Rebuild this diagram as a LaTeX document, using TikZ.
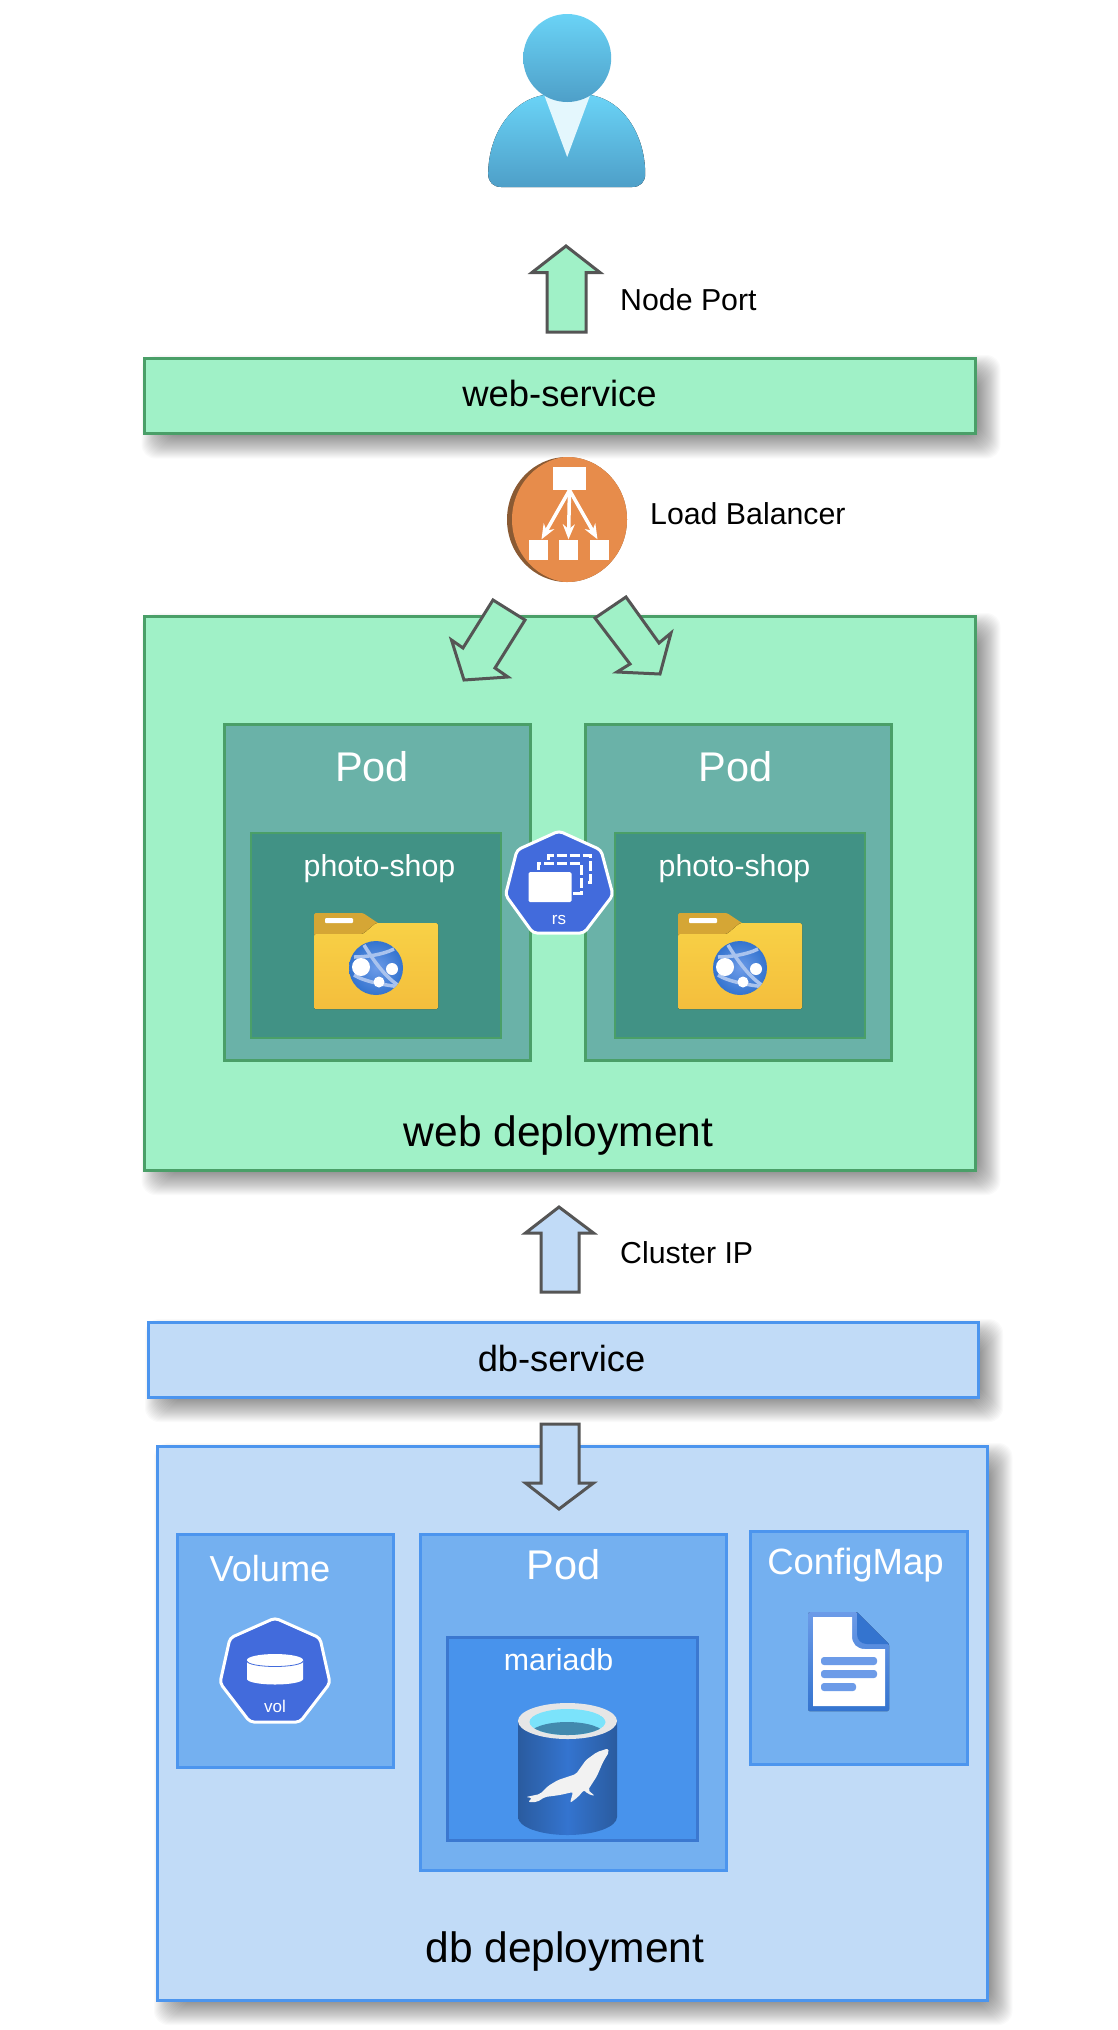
\documentclass[tikz,border=0pt]{standalone}
\usepackage{fontspec}
\setmainfont{Liberation Sans}
\usetikzlibrary{arrows.meta}
\definecolor{gfill}{HTML}{A0F1C7}
\definecolor{gline}{HTML}{4A9F68}
\definecolor{gpod}{HTML}{6AB2A8}
\definecolor{gin}{HTML}{419285}
\definecolor{bfill}{HTML}{C1DBF7}
\definecolor{bline}{HTML}{4C95EE}
\definecolor{bpod}{HTML}{74B0F0}
\definecolor{bin}{HTML}{4893EC}
\definecolor{binl}{HTML}{3B78D0}
\definecolor{arrowline}{HTML}{555555}
\definecolor{k8s}{HTML}{426BDC}
\definecolor{lborange}{HTML}{E78C4B}
\definecolor{lbdark}{HTML}{8A5A33}
\definecolor{ptop}{HTML}{6AD3F6}
\definecolor{pbot}{HTML}{4E9FC8}
\definecolor{foldl}{HTML}{F8D146}
\definecolor{foldd}{HTML}{F4BE3C}
\definecolor{foldt}{HTML}{D5A635}
\definecolor{docl}{HTML}{6C9BE8}
\definecolor{docd}{HTML}{3474CF}
\definecolor{globeline}{HTML}{A9C3EE}
\definecolor{cyledge}{HTML}{2A5B9F}
\definecolor{cylmid}{HTML}{3474CF}
\definecolor{cylrim}{HTML}{E6E6E6}
\definecolor{cylcyan}{HTML}{7BE3FB}
\definecolor{cylwater}{HTML}{4289AE}
\definecolor{sealc}{HTML}{F2F2F2}
\tikzset{
  boxg/.style={draw=gline,fill=gfill,line width=3pt,inner sep=0pt},
  podg/.style={draw=gline,fill=gpod,line width=3pt,inner sep=0pt},
  ing/.style={draw=gline,fill=gin,line width=2pt,inner sep=0pt},
  boxb/.style={draw=bline,fill=bfill,line width=3pt,inner sep=0pt},
  podb/.style={draw=bline,fill=bpod,line width=3pt,inner sep=0pt},
  inb/.style={draw=binl,fill=bin,line width=3pt,inner sep=0pt},
  blockg/.style={draw=arrowline,fill=gfill,line width=3pt,line join=miter},
  blockb/.style={draw=arrowline,fill=bfill,line width=3pt,line join=miter},
  hepta/.style={draw=white,fill=k8s,line width=3pt,rounded corners=4pt},
  lbsq/.style={fill=white,inner sep=0pt},
  lbarrow/.style={draw=white,line width=3.5pt,-{Stealth[length=15pt,width=12pt]}},
  lab/.style={inner sep=0pt,anchor=base,font=\fontsize{30.3}{36}\selectfont},
  labw/.style={lab,text=white},
}
\newcommand\softshadow[4]{%
  \foreach \i in {-14,...,14}{
    \fill[black,opacity=.02,rounded corners=14pt]
      ({#1+11-\i},{#2+11-\i}) rectangle ({#3+11+\i},{#4+11+\i});
  }}
\newcommand\folder[1]{%
  \begin{scope}[shift={(#1,0)}]
    \fill[foldt,rounded corners=1.5pt] (314,940) -- (314,913) -- (363,913) -- (381,925) -- (381,940) -- cycle;
    \fill[top color=foldl,bottom color=foldd,rounded corners=1.5pt]
      (314,1009) -- (314,934) -- (363,934) -- (376,923) -- (438,923) -- (438,1009) -- cycle;
    \fill[white,rounded corners=1pt] (325,918) rectangle (353,923);
    \begin{scope}
      \clip (376,968) circle (27);
      \shade[inner color=docl,outer color=docd] (376,968) circle (27);
      \draw[globeline,line width=3.5pt] (364,945) .. controls (372,958) and (385,978) .. (401,987);
      \draw[globeline,line width=3.5pt] (354,957) .. controls (365,957) and (382,955) .. (394,949);
      \draw[globeline,line width=3.5pt] (354,975) .. controls (365,982) and (385,985) .. (401,987);
    \end{scope}
    \fill[white] (361,967) circle (9);
    \fill[white] (392,969) circle (6);
    \fill[white] (379,982) circle (5.5);
  \end{scope}}
\begin{document}
\begin{tikzpicture}[x=1pt,y=-1pt]
\useasboundingbox (0,0) rectangle (1118,2030);
\fill[white] (0,0) rectangle (1118,2030);

% shadows
\softshadow{144.5}{358}{975.5}{433.5}
\softshadow{144.5}{616}{975.5}{1170}
\softshadow{148}{1322}{978}{1397}
\softshadow{157}{1446}{987.5}{2000}

% person
\begin{scope}[shift={(1.2,0)}]
\fill[top color=ptop,bottom color=pbot]
  (487,174) .. controls (487,135) and (510,100) .. (543,95) -- (589,95)
  .. controls (622,100) and (644,135) .. (644,174)
  .. controls (644,182) and (639,187) .. (631,187) -- (500,187)
  .. controls (492,187) and (487,182) .. (487,174) -- cycle;
\fill[white!82!ptop] (543,95) -- (589,95) -- (566,157) -- cycle;
\shade[top color=ptop,bottom color=pbot] (566,58) circle (44);
\end{scope}

% node port
\draw[blockg] (566,246) -- (600,272.5) -- (586,272.5) -- (586,332) -- (547,332) -- (547,272.5) -- (532,272.5) -- cycle;
\node[lab,anchor=base west] (nodeport) at (620,310) {Node Port};

% web service
\node[boxg,minimum width=831pt,minimum height=75.5pt] (websvc) at (560,395.75) {};
\node[lab,font=\fontsize{36.4}{42}\selectfont] (websvct) at (559.5,406) {web-service};

% web deployment
\node[boxg,minimum width=831pt,minimum height=554pt] (webdep) at (560,893) {};
\node[lab,font=\fontsize{42.5}{48}\selectfont] (webdept) at (558.5,1146) {web deployment};

% load balancer
\fill[lbdark] (567,519.5) ellipse[x radius=60,y radius=62.5];
\begin{scope}
  \clip (567,519.5) ellipse[x radius=60,y radius=62.5];
  \fill[lborange] (572,519.5) ellipse[x radius=60,y radius=63];
\end{scope}
\node[lbsq,minimum width=33.5pt,minimum height=23pt] (lbtop) at (569.5,478.5) {};
\node[lbsq,minimum width=18.5pt,minimum height=20.5pt] (lba) at (538.5,549.75) {};
\node[lbsq,minimum width=18.5pt,minimum height=20.5pt] (lbb) at (568.5,549.75) {};
\node[lbsq,minimum width=18.5pt,minimum height=20.5pt] (lbc) at (599.5,549.75) {};
\draw[lbarrow] (lbtop.south) -- ([xshift=3pt]lba.north);
\draw[lbarrow] (lbtop.south) -- (lbb.north);
\draw[lbarrow] (lbtop.south) -- ([xshift=-2pt]lbc.north);
\node[lab,anchor=base west] (lbt) at (650,524) {Load Balancer};

% block arrows into deployment
\draw[blockg] (493,600) -- (463,648) -- (451.5,640) -- (464,680) -- (508,677) -- (495,668) -- (525,620) -- cycle;
\draw[blockg] (626,597) -- (659,643) -- (671,633) -- (660,674) -- (617,672) -- (630,664) -- (595,618) -- cycle;

% pods
\node[podg,minimum width=306pt,minimum height=336pt] (pod1) at (377,892) {};
\node[podg,minimum width=306pt,minimum height=336pt] (pod2) at (738.5,892) {};
\node[labw,font=\fontsize{41.5}{46}\selectfont] (pod1t) at (372,781) {Pod};
\node[labw,font=\fontsize{41.5}{46}\selectfont] (pod2t) at (735.5,781) {Pod};
\node[ing,minimum width=250pt,minimum height=205pt] (in1) at (375.5,935.5) {};
\node[ing,minimum width=250pt,minimum height=205pt] (in2) at (739.5,935.5) {};
\node[labw] (shop1) at (379.5,876) {photo-shop};
\node[labw] (shop2) at (734.5,876) {photo-shop};
\folder{0}
\folder{364}

% rs
\begin{scope}[shift={(1,0)}]
\draw[hepta] (558,831) -- (600,850) -- (612,895) -- (583,933) -- (532,933) -- (504.5,895) -- (516,850) -- cycle;
\draw[white,line width=3pt,dash pattern=on 10pt off 3pt] (547,860) -- (547,855.5) -- (589,855.5) -- (589,882) -- (584,882);
\draw[white,line width=3pt,dash pattern=on 10pt off 3pt] (537,870) -- (537,863) -- (580,863) -- (580,893) -- (571,893);
\fill[white,rounded corners=1.5pt] (527.5,872) rectangle (570.5,902);
\node[labw,font=\fontsize{17}{20}\selectfont] (rst) at (558,924) {rs};
\end{scope}

% cluster ip
\draw[blockb] (559,1207) -- (593.5,1233) -- (579,1233) -- (579,1292) -- (541,1292) -- (541,1233) -- (525.5,1233) -- cycle;
\node[lab,anchor=base west] (clip) at (620,1263) {Cluster IP};

% db service
\node[boxb,minimum width=830pt,minimum height=75pt] (dbsvc) at (563,1359.5) {};
\node[lab,font=\fontsize{36.3}{42}\selectfont] (dbsvct) at (561.5,1371) {db-service};

% db deployment
\node[boxb,minimum width=830.5pt,minimum height=554pt] (dbdep) at (572.25,1723) {};
\node[lab,font=\fontsize{42.5}{48}\selectfont] (dbdept) at (565,1962) {db deployment};

% down arrow
\draw[blockb] (541,1424) -- (579,1424) -- (579,1483) -- (593.5,1483) -- (559,1509) -- (525.5,1483) -- (541,1483) -- cycle;

% volume
\node[podb,minimum width=216pt,minimum height=233pt] (volbox) at (285,1650.5) {};
\node[labw,font=\fontsize{36.2}{42}\selectfont] (volt) at (270,1581) {Volume};
\draw[hepta] (275,1618) -- (320,1638) -- (330,1683) -- (300,1722) -- (250,1722) -- (220,1683) -- (230,1638) -- cycle;
\fill[white] (247,1660) -- (247,1679) arc[start angle=180,end angle=0,x radius=28,y radius=5.5] -- (303,1660) arc[start angle=0,end angle=-180,x radius=28,y radius=6] -- cycle;
\draw[k8s,line width=.8pt] (247,1661) arc[start angle=180,end angle=0,x radius=28,y radius=5.5];
\node[labw,font=\fontsize{17}{20}\selectfont] (volv) at (275,1712) {vol};

% pod db
\node[podb,minimum width=306pt,minimum height=336pt] (pod3) at (573,1702) {};
\node[labw,font=\fontsize{41.5}{46}\selectfont] (pod3t) at (563.5,1579) {Pod};
\node[inb,minimum width=249.5pt,minimum height=203pt] (in3) at (572.5,1738.5) {};
\node[labw] (mariat) at (558.5,1670) {mariadb};

% cylinder
\shade[left color=cyledge,right color=cyledge,middle color=cylmid]
  (518,1721) -- (518,1817) arc[start angle=180,end angle=0,x radius=49.5,y radius=18] -- (617,1721) -- cycle;
\fill[cylrim] (567.5,1721) ellipse[x radius=49.5,y radius=18];
\begin{scope}
  \clip (567.5,1722) ellipse[x radius=38,y radius=13];
  \fill[cylcyan] (567.5,1722) ellipse[x radius=38,y radius=13];
  \fill[cylwater] (567,1735) ellipse[x radius=38,y radius=13];
\end{scope}
\fill[sealc,rounded corners=2pt]
  (526,1797) -- (540,1794) -- (548,1786) -- (558,1780) -- (576,1774) -- (586,1760) -- (597,1752) -- (608,1748.5) -- (609,1752) -- (603,1762) -- (597,1776) -- (588,1790) -- (595,1796) -- (588,1794) -- (584,1790) -- (578,1797) -- (570,1803) -- (573,1792) -- (560,1795) -- (545,1797) -- (537,1802) -- (528,1802) -- (532,1798) -- cycle;

% configmap
\node[podb,minimum width=216.5pt,minimum height=233pt] (cmbox) at (859,1647.5) {};
\node[labw,font=\fontsize{36.5}{42}\selectfont] (cmt) at (855.5,1574) {ConfigMap};
\begin{scope}[shift={(1,0)}]
\fill[top color=docl,bottom color=docd,rounded corners=1.5pt] (807,1612) -- (856,1612) -- (888,1644) -- (888,1711) -- (807,1711) -- cycle;
\fill[white] (812,1617) -- (851,1617) -- (851,1636) .. controls (851,1644) and (856,1649) .. (864,1649) -- (884,1649) -- (884,1706) -- (812,1706) -- cycle;
\fill[docd] (856,1612) -- (888,1644) -- (866,1644) .. controls (860,1644) and (856,1640) .. (856,1634) -- cycle;
\fill[docl,rounded corners=3pt] (820,1657) rectangle (876,1665);
\fill[docl,rounded corners=3pt] (820,1670) rectangle (876,1678);
\fill[docl,rounded corners=3pt] (820,1683) rectangle (855,1691);
\end{scope}
\end{tikzpicture}
\end{document}
